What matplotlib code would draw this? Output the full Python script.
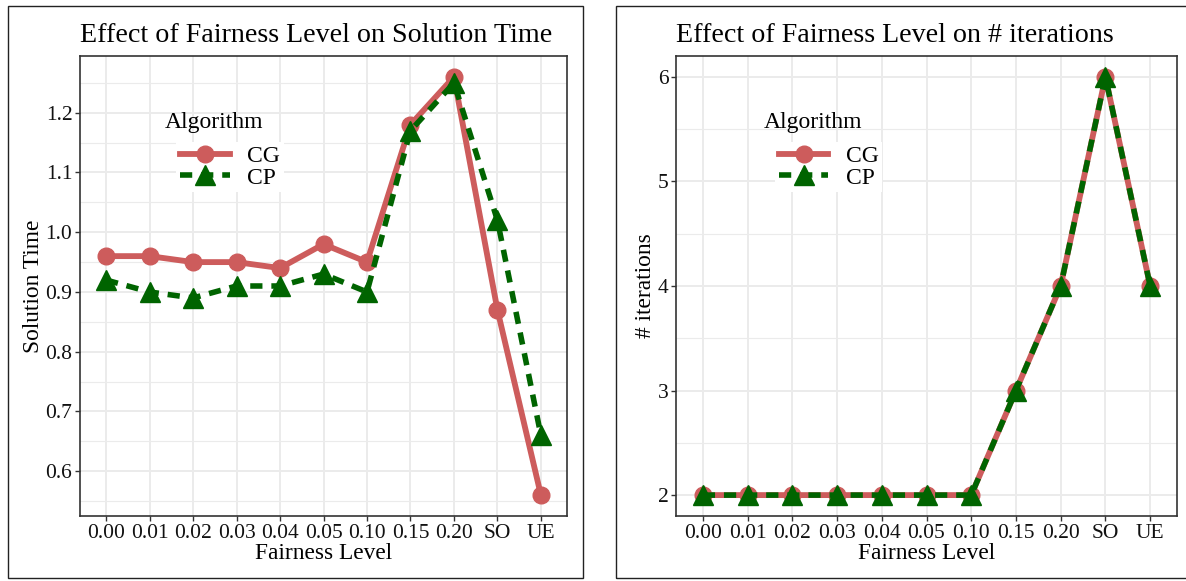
import matplotlib
matplotlib.use("Agg")
import matplotlib.pyplot as plt
from matplotlib.patches import Rectangle
from matplotlib.lines import Line2D
from matplotlib.ticker import MultipleLocator

plt.rcParams['font.family'] = ['Liberation Serif', 'DejaVu Serif']

levels = ["0.00", "0.01", "0.02", "0.03", "0.04", "0.05", "0.10", "0.15", "0.20", "SO", "UE"]
time_cg = [0.96, 0.96, 0.95, 0.95, 0.94, 0.98, 0.95, 1.18, 1.26, 0.87, 0.56]
time_cp = [0.92, 0.90, 0.89, 0.91, 0.91, 0.93, 0.90, 1.17, 1.25, 1.02, 0.66]
iter_cg = [2, 2, 2, 2, 2, 2, 2, 3, 4, 6, 4]
iter_cp = [2, 2, 2, 2, 2, 2, 2, 3, 4, 6, 4]

CG_COLOR = "#CD5C5C"
CP_COLOR = "#006400"
W, H = 1186, 581

fig = plt.figure(figsize=(W / 100, H / 100), dpi=100)

def px_rect(x0, y0, x1, y1):
    return [x0 / W, 1 - y1 / H, (x1 - x0) / W, (y1 - y0) / H]

# outer panel borders
for (x0, y0, x1, y1) in [(8, 6, 583, 578), (616, 6, 1192, 578)]:
    fig.patches.append(Rectangle((x0 / W, 1 - y1 / H), (x1 - x0) / W, (y1 - y0) / H,
                                 transform=fig.transFigure, fill=False,
                                 edgecolor="#222222", linewidth=1.0))

def panel(rect, cg, cp, title, ylabel, major, minor):
    ax = fig.add_axes(rect)
    x = list(range(len(levels)))
    ax.plot(x, cg, color=CG_COLOR, linewidth=4.2, marker='o', markersize=12,
            solid_capstyle='butt', zorder=3)
    ax.plot(x, cp, color=CP_COLOR, linewidth=4.0, marker='^', markersize=14,
            linestyle=(0, (2.2, 1.6)), zorder=4)
    ax.set_xticks(x)
    ax.set_xticklabels(levels)
    ax.set_xlim(-0.6, len(levels) - 0.4)
    lo, hi = min(cg + cp), max(cg + cp)
    pad = (hi - lo) * 0.05
    ax.set_ylim(lo - pad, hi + pad)
    ax.yaxis.set_major_locator(MultipleLocator(major))
    ax.yaxis.set_minor_locator(MultipleLocator(minor))
    ax.grid(which='major', color='#EBEBEB', linewidth=1.4, zorder=0)
    ax.grid(which='minor', axis='y', color='#EBEBEB', linewidth=0.8, zorder=0)
    ax.set_axisbelow(True)
    for s in ax.spines.values():
        s.set_color('#333333')
        s.set_linewidth(1.2)
    ax.tick_params(axis='both', which='major', direction='out', length=3.5,
                   width=1.0, color='#333333', labelsize=15.5, labelcolor='#111111', pad=2)
    ax.tick_params(axis='y', which='minor', length=0)
    ax.set_title(title, loc='left', fontsize=20.2, pad=10)
    ax.set_xlabel("Fairness Level", fontsize=16.8, labelpad=0)
    ax.set_ylabel(ylabel, fontsize=16.8, labelpad=1)
    ax.text(0.1745, 0.8565, "Algorithm", transform=ax.transAxes, fontsize=17,
            ha='left', va='center')
    handles = [
        Line2D([], [], color=CG_COLOR, linewidth=4.2, marker='o', markersize=12),
        Line2D([], [], color=CP_COLOR, linewidth=4.0, marker='^', markersize=14,
               linestyle=(0, (2.2, 1.6))),
    ]
    leg = ax.legend(handles, ["CG", "CP"], loc='upper left',
                    bbox_to_anchor=(0.198, 0.813), fontsize=17, frameon=True,
                    framealpha=1.0, facecolor='white', edgecolor='none',
                    handlelength=2.1, handletextpad=0.75, labelspacing=0.0,
                    borderpad=0.15, borderaxespad=0.0, fancybox=False)
    leg.set_zorder(5)
    return ax

panel(px_rect(80, 56, 567, 516), time_cg, time_cp,
      "Effect of Fairness Level on Solution Time", "Solution Time", 0.1, 0.05)
panel(px_rect(676, 56, 1177, 516), iter_cg, iter_cp,
      "Effect of Fairness Level on # iterations", "# iterations", 1, 0.5)

fig.savefig("out.png", dpi=100)
